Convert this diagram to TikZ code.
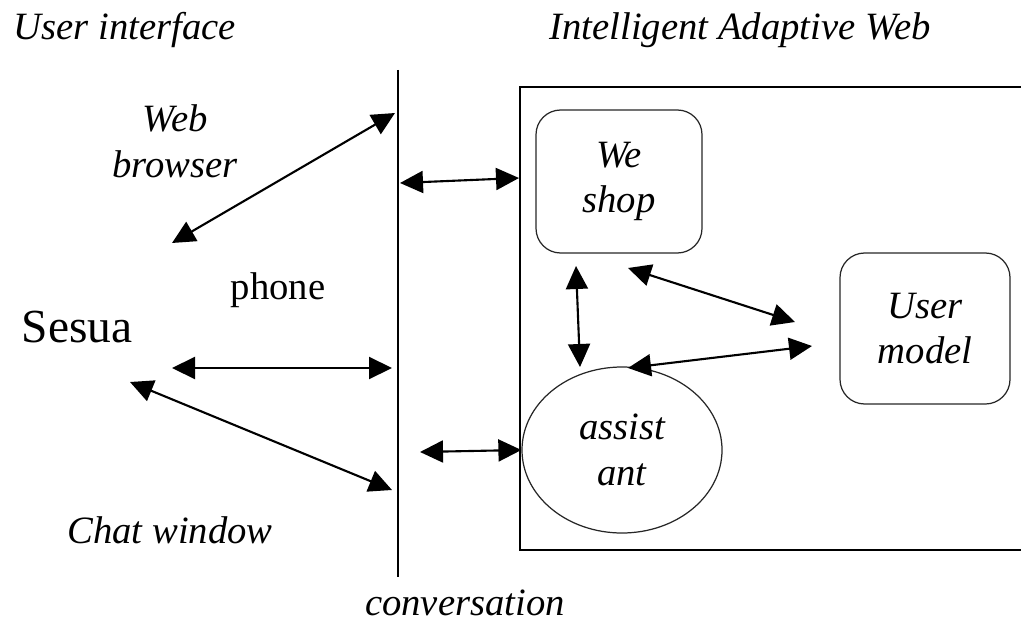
\documentclass[tikz,border=0pt]{standalone}
\usepackage{fontspec}
\setmainfont{Liberation Serif}
\usepackage{tikz}
\usetikzlibrary{shapes.geometric, arrows.meta, positioning}
\tikzset{
  itlabel/.style={font=\fontsize{22}{26}\selectfont\itshape, align=center, inner sep=0pt},
  uplabel/.style={font=\fontsize{22}{26}\selectfont, align=center, inner sep=0pt},
  rbox/.style={rectangle, draw=black!85, rounded corners=14pt, line width=0.7pt,
               align=center, font=\fontsize{22}{26}\selectfont\itshape},
  oval/.style={ellipse, draw=black!85, line width=0.7pt,
               align=center, font=\fontsize{22}{26}\selectfont\itshape},
  link/.style={{Triangle[length=0.46cm, width=0.44cm]}-{Triangle[length=0.46cm, width=0.44cm]},
               draw=black, line width=1.2pt},
}

\begin{document}
\begin{tikzpicture}[
  frame/.style={draw=black, line width=0.9pt}
]
  \useasboundingbox (0,0) rectangle (20.42,12.72);

  % headings
  \node[itlabel] (ui) at (2.5,12.12) {User interface};
  \node[itlabel] (iaw) at (14.8,12.12) {Intelligent Adaptive Web};

  % divider and web frame
  \coordinate (divtop) at (7.96,11.32);
  \coordinate (divbot) at (7.96,1.18);
  \draw[frame] (divtop) -- (divbot);
  \draw[frame] (20.6,10.98) -- (10.4,10.98) -- (10.4,1.72) -- (20.6,1.72);

  % left side labels
  \node[itlabel] (web) at (3.5,9.9) {Web\\browser};
  \node[uplabel] (phone) at (5.56,6.92) {phone};
  \node[uplabel, font=\fontsize{27}{30}\selectfont] (sesua) at (1.54,6.18) {Sesua};
  \node[itlabel] (chat) at (3.4,2.12) {Chat window};
  \node[itlabel] (conv) at (9.3,0.66) {conversation};

  % components
  \node[rbox, minimum width=3.32cm, minimum height=2.86cm] (shop) at (12.38,9.09) {We\\shop};
  \node[rbox, minimum width=3.4cm, minimum height=3.02cm] (model) at (18.5,6.15) {User\\model};
  \node[oval, minimum width=4.0cm, minimum height=3.32cm, inner sep=0pt] (assist) at (12.44,3.72) {assist\\ant};

  % end points
  \coordinate (b1) at (3.44,7.86);
  \coordinate (b2) at (7.9,10.46);
  \coordinate (s1) at (8.0,9.06);
  \coordinate (s2) at (10.38,9.16);
  \coordinate (p1) at (3.44,5.36);
  \coordinate (p2) at (7.84,5.36);
  \coordinate (c1) at (2.6,5.08);
  \coordinate (c2) at (7.84,2.92);
  \coordinate (a1) at (8.4,3.68);
  \coordinate (v1) at (11.52,7.4);
  \coordinate (v2) at (11.6,5.38);
  \coordinate (m1) at (12.56,7.36);
  \coordinate (m2) at (15.9,6.28);
  \coordinate (n1) at (12.56,5.36);
  \coordinate (n2) at (16.24,5.8);

  % connectors
  \draw[link] (b1) -- (b2);
  \draw[link] (s1) -- (s2);
  \draw[link] (p1) -- (p2);
  \draw[link] (c1) -- (c2);
  \draw[link] (a1) -- (assist.west);
  \draw[link] (v1) -- (v2);
  \draw[link] (m1) -- (m2);
  \draw[link] (n1) -- (n2);
\end{tikzpicture}
\end{document}
